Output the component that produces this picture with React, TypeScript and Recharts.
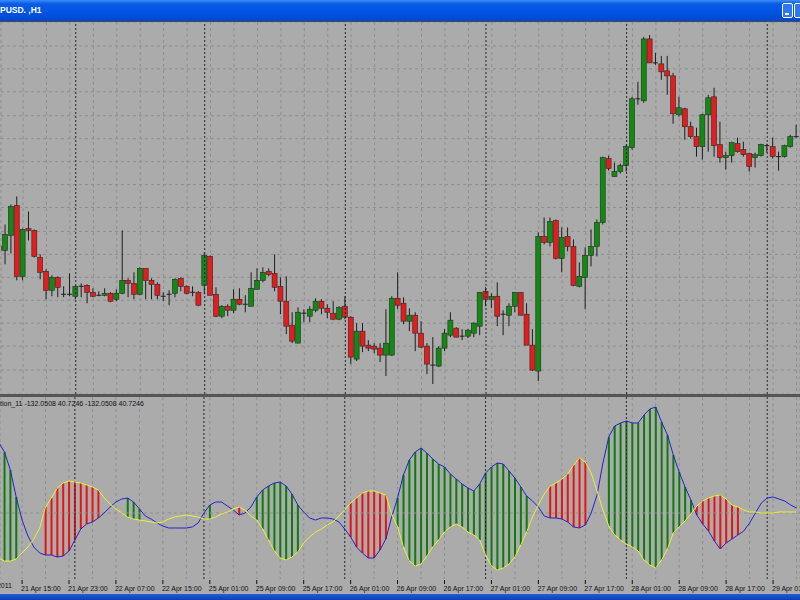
import React from 'react'
import {
  ComposedChart,
  Bar,
  Line,
  XAxis,
  YAxis,
  CartesianGrid,
  ReferenceLine,
  Cell,
} from 'recharts'

// GBPUSD H1, prices in pips (1.6548 -> 16548), one entry per bar
const open = [
  16548, 16544, 16559, 16589, 16518, 16566, 16564, 16537, 16523, 16504,
  16517, 16500, 16500, 16498, 16508, 16509, 16502, 16499, 16499, 16501,
  16495, 16501, 16514, 16511, 16500, 16526, 16514, 16510, 16498, 16500,
  16501, 16516, 16508, 16502, 16502, 16509, 16538, 16500, 16478, 16488,
  16484, 16495, 16490, 16488, 16505, 16514, 16523, 16521, 16508, 16493,
  16469, 16451, 16481, 16478, 16484, 16493, 16486, 16481, 16475, 16488,
  16477, 16435, 16463, 16449, 16448, 16446, 16439, 16439, 16496, 16491,
  16473, 16479, 16461, 16448, 16429, 16428, 16446, 16459, 16466, 16458,
  16458, 16461, 16468, 16503, 16495, 16498, 16480, 16479, 16488, 16502,
  16480, 16449, 16423, 16558, 16552, 16574, 16536, 16558, 16548, 16508,
  16517, 16539, 16548, 16572, 16636, 16618, 16623, 16629, 16647, 16696,
  16694, 16756, 16732, 16731, 16724, 16719, 16680, 16686, 16668, 16658,
  16648, 16680, 16698, 16650, 16637, 16639, 16651, 16645, 16641, 16637,
  16639, 16649, 16648, 16638, 16638, 16648, 16658,
]
const high = [
  16551, 16570, 16590, 16598, 16566, 16583, 16565, 16540, 16525, 16519,
  16518, 16508, 16521, 16509, 16511, 16510, 16506, 16503, 16506, 16502,
  16505, 16564, 16516, 16522, 16527, 16526, 16516, 16512, 16502, 16504,
  16516, 16517, 16509, 16508, 16503, 16542, 16539, 16507, 16489, 16490,
  16505, 16506, 16499, 16522, 16526, 16527, 16526, 16540, 16517, 16518,
  16482, 16487, 16485, 16488, 16496, 16495, 16490, 16493, 16488, 16498,
  16478, 16471, 16471, 16454, 16451, 16451, 16485, 16498, 16522, 16497,
  16486, 16482, 16473, 16451, 16457, 16448, 16465, 16482, 16467, 16465,
  16465, 16472, 16502, 16507, 16501, 16512, 16484, 16491, 16502, 16502,
  16491, 16465, 16562, 16577, 16577, 16575, 16567, 16567, 16555, 16532,
  16547, 16565, 16575, 16638, 16639, 16632, 16631, 16650, 16698, 16713,
  16758, 16760, 16742, 16739, 16739, 16722, 16698, 16687, 16673, 16667,
  16681, 16700, 16707, 16673, 16643, 16653, 16657, 16653, 16642, 16642,
  16651, 16651, 16657, 16643, 16650, 16660, 16670,
]
const low = [
  16542, 16530, 16541, 16514, 16514, 16554, 16537, 16515, 16495, 16498,
  16497, 16497, 16498, 16495, 16497, 16491, 16497, 16498, 16498, 16492,
  16493, 16500, 16497, 16495, 16499, 16495, 16495, 16495, 16493, 16489,
  16497, 16503, 16500, 16498, 16488, 16500, 16499, 16477, 16476, 16478,
  16481, 16489, 16482, 16488, 16505, 16512, 16518, 16503, 16480, 16460,
  16451, 16451, 16472, 16472, 16482, 16480, 16476, 16474, 16474, 16475,
  16430, 16433, 16442, 16443, 16441, 16432, 16418, 16438, 16485, 16470,
  16463, 16443, 16446, 16420, 16410, 16427, 16443, 16457, 16457, 16454,
  16456, 16457, 16459, 16488, 16486, 16468, 16459, 16468, 16482, 16479,
  16449, 16423, 16413, 16550, 16548, 16535, 16522, 16543, 16508, 16507,
  16485, 16528, 16538, 16570, 16624, 16618, 16621, 16623, 16645, 16690,
  16692, 16732, 16730, 16715, 16700, 16671, 16678, 16655, 16656, 16638,
  16635, 16643, 16638, 16632, 16625, 16632, 16642, 16638, 16623, 16627,
  16638, 16642, 16636, 16624, 16637, 16647, 16657,
]
const close = [
  16544, 16560, 16588, 16518, 16565, 16564, 16538, 16522, 16504, 16517,
  16507, 16500, 16500, 16508, 16508, 16502, 16498, 16499, 16501, 16493,
  16501, 16514, 16511, 16500, 16526, 16514, 16510, 16499, 16498, 16500,
  16515, 16508, 16501, 16502, 16489, 16539, 16499, 16478, 16488, 16484,
  16495, 16490, 16490, 16506, 16514, 16522, 16520, 16507, 16493, 16468,
  16453, 16482, 16481, 16485, 16493, 16486, 16482, 16475, 16487, 16477,
  16437, 16463, 16448, 16446, 16445, 16439, 16451, 16496, 16489, 16473,
  16479, 16461, 16447, 16430, 16429, 16446, 16461, 16474, 16457, 16458,
  16464, 16471, 16502, 16495, 16498, 16478, 16480, 16488, 16502, 16479,
  16449, 16424, 16558, 16552, 16573, 16536, 16557, 16548, 16509, 16518,
  16539, 16548, 16572, 16637, 16626, 16623, 16629, 16648, 16696, 16696,
  16756, 16732, 16732, 16723, 16719, 16681, 16687, 16668, 16658, 16648,
  16680, 16697, 16649, 16637, 16639, 16652, 16643, 16640, 16628, 16640,
  16650, 16649, 16638, 16638, 16649, 16658, 16658,
]

// indicator buffers (blue and yellow lines), same bars
const blueLine = [
  71, 61, 43, 16, -7, -23, -34, -40, -42, -42,
  -44, -43, -38, -27, -16, -11, -9, -5, 0, 6,
  11, 14, 15, 11, 4, -3, -6, -10, -13, -15,
  -15, -15, -15, -14, -10, 0, 8, 11, 11, 7,
  3, -2, 0, 6, 16, 23, 27, 30, 31, 27,
  19, 8, 1, -5, -7, -5, -5, -6, -9, -16,
  -24, -34, -40, -45, -45, -37, -26, -4, 15, 38,
  53, 61, 65, 60, 54, 49, 46, 39, 34, 29,
  25, 22, 29, 40, 46, 50, 49, 42, 35, 26,
  17, 12, 6, -3, -5, -5, -6, -9, -14, -15,
  -12, 0, 18, 50, 76, 87, 90, 92, 90, 90,
  98, 104, 106, 91, 78, 58, 41, 26, 13, -2,
  -11, -18, -28, -36, -30, -26, -22, -18, -10, 0,
  10, 15, 16, 14, 12, 8, 5,
]
const yellowLine = [
  -45, -48, -48, -46, -40, -34, -26, -15, 6, 15,
  25, 30, 32, 31, 30, 28, 26, 23, 15, 9,
  4, 0, -4, -6, -7, -8, -9, -10, -9, -6,
  -4, -3, -2, -3, -4, -6, -6, -4, -1, 1,
  4, 6, 3, -3, -7, -16, -27, -38, -45, -47,
  -44, -39, -30, -24, -19, -16, -12, -9, -3, 3,
  10, 15, 20, 22, 22, 20, 18, -1, -14, -34,
  -48, -53, -51, -43, -34, -27, -19, -14, -11, -14,
  -19, -22, -27, -42, -53, -57, -55, -51, -44, -32,
  -19, -4, 8, 19, 27, 30, 34, 39, 48, 55,
  51, 40, 22, 3, -13, -22, -27, -31, -34, -38,
  -47, -52, -55, -47, -36, -20, -14, -8, -1, 7,
  12, 15, 17, 18, 14, 8, 6, 3, 1, 1,
  0, 0, 0, 1, 1, 1, 1,
]
// bars where the histogram is painted, [first, last]
const histRuns = [
  [0, 3], [8, 17], [22, 24], [36, 36], [41, 41], [44, 51],
  [60, 66], [68, 90], [94, 100], [104, 118], [119, 126],
]

const gridBars = [
  0, 4, 8, 12, 16, 20, 24, 28, 32, 36, 40, 44, 48, 52, 56, 60, 64, 68,
  72, 76, 80, 84, 88, 92, 96, 100, 104, 108, 112, 116, 120, 124, 128, 132, 136,
]
const dayStarts = [13, 35, 59, 83, 107, 131]
const labelBars = [4, 12, 20, 28, 36, 44, 52, 60, 68, 76, 84, 92, 100, 108, 116, 124, 132]
const labelTexts = [
  '21 Apr 15:00', '21 Apr 23:00', '22 Apr 07:00', '22 Apr 15:00', '25 Apr 01:00',
  '25 Apr 09:00', '25 Apr 17:00', '26 Apr 01:00', '26 Apr 09:00', '26 Apr 17:00',
  '27 Apr 01:00', '27 Apr 09:00', '27 Apr 17:00', '28 Apr 01:00', '28 Apr 09:00',
  '28 Apr 17:00', '29 Apr 01:00',
]
const priceGrid = [
  16749, 16726, 16703, 16679, 16656, 16633, 16610, 16587, 16563, 16540,
  16517, 16494, 16471, 16448, 16424,
]

const X_DOMAIN: [number, number] = [0.2386, 136.59]
const BG = '#ababab'
const GRID = '#8e8e8e'
const UP = '#118a11'
const DOWN = '#e41c1c'
const FONT = "Tahoma, 'Liberation Sans', Arial, sans-serif"

const candles = open.map((o, i) => ({ i, o, h: high[i], l: low[i], c: close[i] }))
const inRun = (i: number) => histRuns.some(([a, b]) => i >= a && i <= b)
const ind = blueLine.map((b, i) => {
  const y = yellowLine[i]
  return {
    i,
    blue: b,
    yellow: y,
    hist: inRun(i) ? [Math.min(b, y), Math.max(b, y)] : null,
    up: b >= y,
  }
})

// hidden ticks: the axes exist only to feed the grid
function NoTick() {
  return null
}

function Candle(props: any) {
  const { x, y, width, height, payload } = props
  if (x == null || payload == null) return null
  const top = Math.min(y, y + height)
  const span = Math.abs(height)
  const { o, h, l, c } = payload
  const k = h > l ? span / (h - l) : 0
  const cx = x + width / 2
  const bTop = top + (h - Math.max(o, c)) * k
  const bBot = top + (h - Math.min(o, c)) * k
  return (
    <g>
      <line x1={cx} x2={cx} y1={top} y2={top + span} stroke="#1e1e1e" strokeWidth={1} />
      {o === c ? (
        <line x1={x} x2={x + width} y1={bTop} y2={bTop} stroke="#1e1e1e" strokeWidth={1} />
      ) : (
        <rect
          x={x}
          y={bTop}
          width={width}
          height={Math.max(bBot - bTop, 1)}
          fill={c > o ? UP : DOWN}
          stroke="#2a2a2a"
          strokeWidth={0.6}
        />
      )}
    </g>
  )
}

function TimeTick(props: any) {
  const { x, y, payload } = props
  const k = labelBars.indexOf(payload.value)
  if (k < 0) return null
  return (
    <g>
      <line x1={x} x2={x} y1={y + 1} y2={y + 5} stroke="#111" />
      <text x={x - 1} y={y + 12} fontSize={7} fontFamily={FONT} fill="#111">
        {labelTexts[k]}
      </text>
    </g>
  )
}

export default function App() {
  return (
    <div
      style={{
        position: 'relative',
        width: 800,
        height: 600,
        overflow: 'hidden',
        background: BG,
        fontFamily: FONT,
      }}
    >
      <style>{'body{margin:0}'}</style>

      {/* window title bar */}
      <div
        style={{
          position: 'absolute',
          left: 0,
          top: 0,
          width: 800,
          height: 21,
          background: 'linear-gradient(#3c8df5 0%, #0a5ce6 18%, #0054e3 55%, #0049d0 100%)',
          borderBottom: '1px solid #4a4a4a',
        }}
      >
        <span
          style={{
            position: 'absolute',
            left: 0,
            top: 5,
            color: '#fff',
            fontSize: 8.5,
            fontWeight: 'bold',
            whiteSpace: 'nowrap',
          }}
        >
          PUSD. ,H1
        </span>
        <div
          style={{
            position: 'absolute',
            left: 782,
            top: 3,
            width: 9,
            height: 13,
            borderRadius: 2,
            border: '1px solid #fff',
            background: '#2f77f0',
          }}
        >
          <div style={{ position: 'absolute', left: 2, top: 9, width: 4, height: 2, background: '#fff' }} />
        </div>
        <div
          style={{
            position: 'absolute',
            left: 794,
            top: 3,
            width: 12,
            height: 13,
            borderRadius: 2,
            border: '1px solid #fff',
            background: '#2f77f0',
          }}
        />
      </div>

      {/* price pane */}
      <div style={{ position: 'absolute', left: 0, top: 22 }}>
        <ComposedChart width={800} height={373} data={candles} margin={{ top: 0, right: 0, bottom: 0, left: 0 }}>
          <XAxis
            type="number"
            dataKey="i"
            domain={X_DOMAIN}
            allowDataOverflow
            ticks={gridBars}
            interval={0}
            tick={<NoTick />}
            tickLine={false}
            axisLine={false}
            height={1}
          />
          <YAxis
            type="number"
            domain={[16400, 16773]}
            allowDataOverflow
            ticks={priceGrid}
            interval={0}
            tick={<NoTick />}
            tickLine={false}
            axisLine={false}
            width={1}
          />
          <CartesianGrid stroke={GRID} strokeDasharray="3 3" />
          {dayStarts.map((d) => (
            <ReferenceLine key={d} x={d} stroke="#262626" strokeDasharray="2 2" />
          ))}
          <Bar
            dataKey={(d: any) => [d.l, d.h]}
            barSize={5}
            shape={<Candle />}
            isAnimationActive={false}
          />
        </ComposedChart>
      </div>

      {/* pane separator */}
      <div style={{ position: 'absolute', left: 0, top: 394, width: 800, height: 3, background: '#555' }} />

      <div
        style={{
          position: 'absolute',
          left: 0,
          top: 400,
          fontSize: 7,
          color: '#111',
          whiteSpace: 'nowrap',
          zIndex: 2,
        }}
      >
        tion_11 -132.0508 40.7246 -132.0508 40.7246
      </div>

      {/* indicator pane with time axis */}
      <div style={{ position: 'absolute', left: 0, top: 397 }}>
        <ComposedChart width={800} height={197} data={ind} margin={{ top: 0, right: 0, bottom: 0, left: 0 }}>
          <XAxis
            type="number"
            dataKey="i"
            domain={X_DOMAIN}
            allowDataOverflow
            ticks={gridBars}
            interval={0}
            tick={<TimeTick />}
            tickLine={false}
            tickSize={0}
            tickMargin={0}
            axisLine={false}
            height={15}
          />
          <YAxis
            type="number"
            domain={[-66, 116]}
            allowDataOverflow
            tick={false}
            tickLine={false}
            axisLine={false}
            width={0}
          />
          <CartesianGrid stroke={GRID} strokeDasharray="3 3" horizontal={false} />
          <ReferenceLine y={0} stroke={GRID} strokeDasharray="3 3" />
          {dayStarts.map((d) => (
            <ReferenceLine key={d} x={d} stroke="#262626" strokeDasharray="2 2" />
          ))}
          <Bar dataKey="hist" barSize={2} isAnimationActive={false}>
            {ind.map((d) => (
              <Cell key={d.i} fill={d.up ? '#0b7d0b' : '#ee1010'} />
            ))}
          </Bar>
          <Line type="linear" dataKey="blue" stroke="#2323cc" strokeWidth={1} dot={false} isAnimationActive={false} />
          <Line type="linear" dataKey="yellow" stroke="#eeee3c" strokeWidth={1} dot={false} isAnimationActive={false} />
        </ComposedChart>
      </div>

      <div
        style={{
          position: 'absolute',
          right: 788,
          top: 582,
          fontSize: 7,
          color: '#111',
          whiteSpace: 'nowrap',
        }}
      >
        21 Apr 2011
      </div>

      {/* bottom window edge */}
      <div
        style={{
          position: 'absolute',
          left: 0,
          top: 594,
          width: 800,
          height: 6,
          background: 'linear-gradient(#1f5fd8, #0b3fb8)',
        }}
      />
    </div>
  )
}
